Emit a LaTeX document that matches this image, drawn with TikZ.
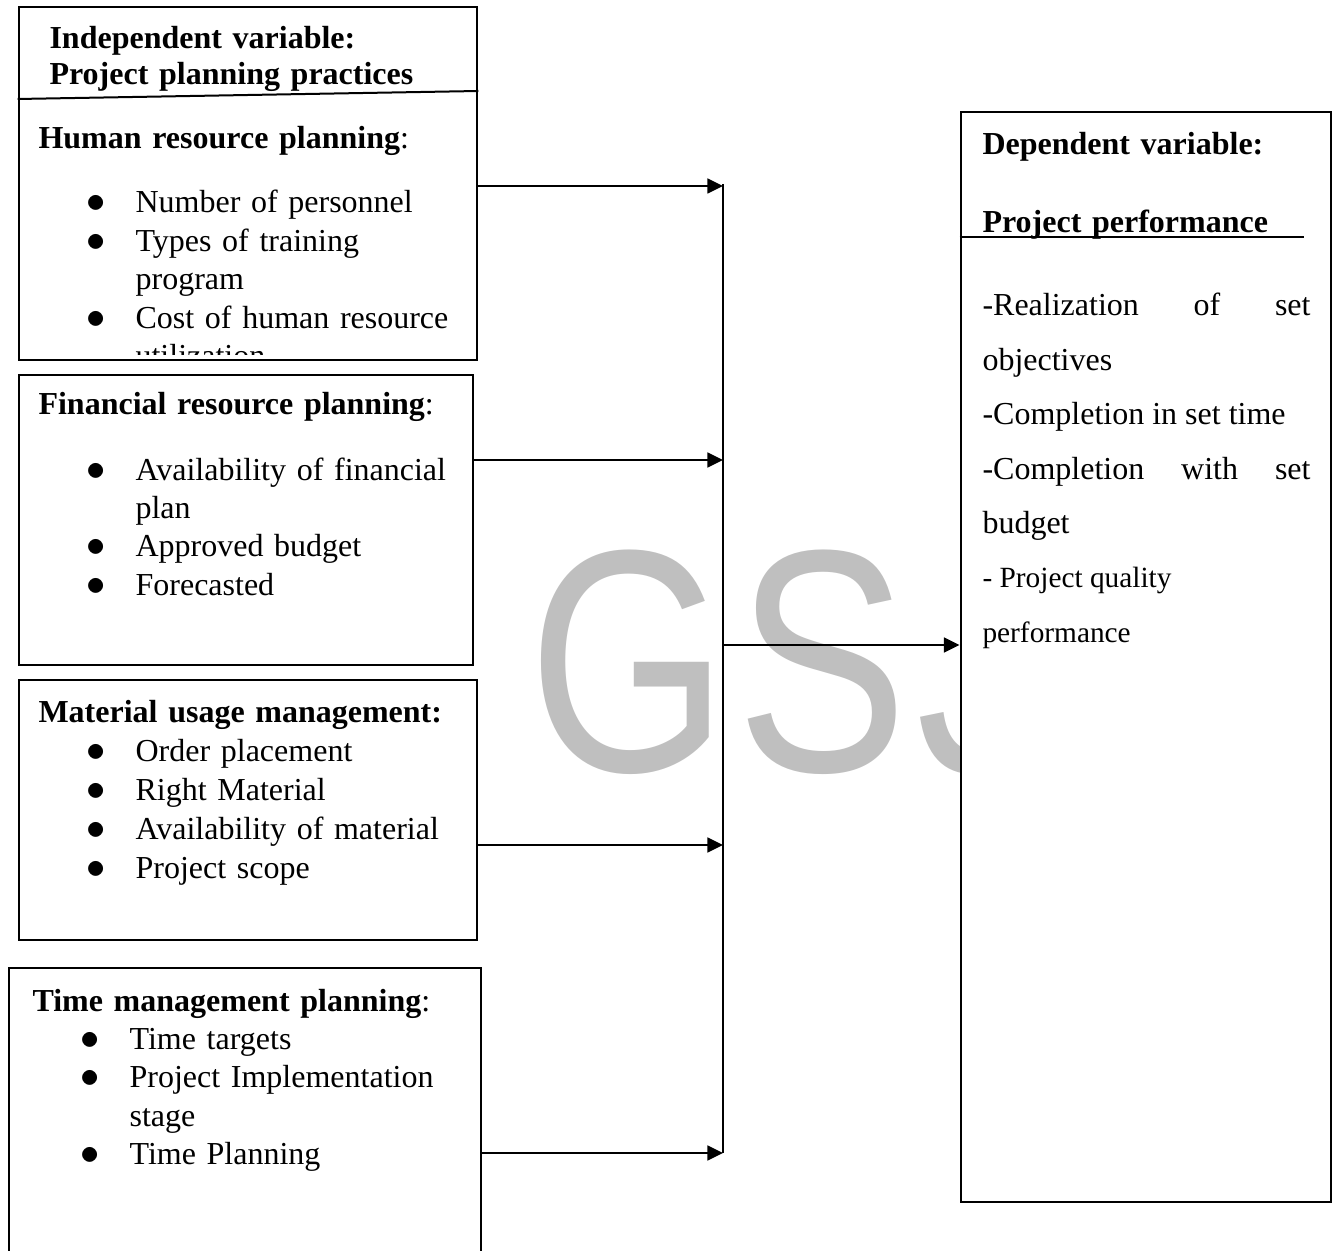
\documentclass[tikz,border=0pt]{standalone}
\usepackage{fontspec}
\setmainfont{Liberation Serif}
\newfontfamily\wmfont{Liberation Sans}
\usepackage{tikz}
\usetikzlibrary{arrows.meta,fit}
\newcommand{\bodyfont}{\fontsize{12}{14.4}\selectfont}
\newcommand{\itm}{\hspace*{18pt}\makebox[18.4pt][l]{\scalebox{1.2}{$\bullet$}}}
\newcommand{\cnt}{\hspace*{36.4pt}}

\begin{document}
\begin{tikzpicture}[x=0.375pt, y=-0.375pt, font=\bodyfont, >={Triangle[length=5.9pt,width=5.6pt]}]
\tikzset{box/.style={draw, line width=1.1pt, fill=white, inner sep=0pt}, txt/.style={anchor=base west, inner sep=0pt, text width=170pt, align=left}, conn/.style={->, line width=0.75pt}}
\useasboundingbox (0,0) rectangle (1333,1251);
% watermark
\node[anchor=base west, inner sep=0pt, text=gray!50, font=\wmfont\fontsize{119}{119}\selectfont] (wm) at (528,771) {\scalebox{0.81}[1]{G\kern3.8pt S\kern3.8pt J}};

% independent variable boxes
\node[box, fit={(19,7) (477,360)}] (hrbox) {};
\draw[line width=0.75pt] (hrbox.west |- 0,99) -- (hrbox.east |- 0,91);
\node[txt, font=\fontsize{12}{13.3}\selectfont\bfseries] (indhead) at (49,49) {Independent variable:\\Project planning practices};
\begin{scope}
\clip (19,7) rectangle (477,355);
\node[txt] (hrtext) at (38,149) {\textbf{Human resource planning}:\\[9.6pt] \itm Number of personnel\\ \itm Types of training\\ \cnt program\\ \itm Cost of human resource\\ \cnt utilization};
\end{scope}

\node[box, fit={(19,375) (473,665)}] (finbox) {};
\node[txt] (fintext) at (38,415) {\textbf{Financial resource planning}:\\[10pt] \itm Availability of financial\\ \cnt plan\\ \itm Approved budget\\ \itm Forecasted};

\node[box, fit={(19,680) (477,940)}] (matbox) {};
\node[txt, font=\fontsize{12}{14.7}\selectfont] (mattext) at (38,722) {\textbf{Material usage management:}\\ \itm Order placement\\ \itm Right Material\\ \itm Availability of material\\ \itm Project scope};

\node[box, fit={(9,968) (481,1265)}] (timebox) {};
\node[txt] (timetext) at (32,1011) {\textbf{Time management planning}:\\ \itm Time targets\\ \itm Project Implementation\\ \cnt stage\\ \itm Time Planning};

% dependent variable
\node[box, fit={(961,112) (1331,1202)}] (depbox) {};
\node[txt, font=\bodyfont\bfseries] (dephead) at (982,155) {Dependent variable:};
\node[txt, font=\bodyfont\bfseries] (perfhead) at (982,233) {Project performance};
\draw[line width=0.75pt] (depbox.west |- 0,237) -- (1304,237);
\node[anchor=base west, inner sep=0pt, text width=123pt, align=justify, font=\fontsize{12}{20.4}\selectfont] (perftext) at (982,316) {\hyphenpenalty=10000 \exhyphenpenalty=10000 -Realization of set objectives\par -Completion in set time\par -Completion with set budget\par {\fontsize{11}{20.4}\selectfont - Project quality\par performance}};

% connectors
\coordinate (bustop) at (723,184);
\coordinate (busbot) at (723,1153);
\coordinate (hrin) at (723,186);
\coordinate (finin) at (723,460);
\coordinate (matin) at (723,845);
\coordinate (timein) at (723,1153);
\coordinate (busout) at (723,645);
\draw[line width=0.75pt] (bustop) -- (busbot);
\foreach \b/\c in {hrbox/hrin,finbox/finin,matbox/matin,timebox/timein} \draw[conn] (\b.east |- \c) -- (\c);
\draw[conn] (busout) -- (depbox.west |- busout);
\end{tikzpicture}
\end{document}
